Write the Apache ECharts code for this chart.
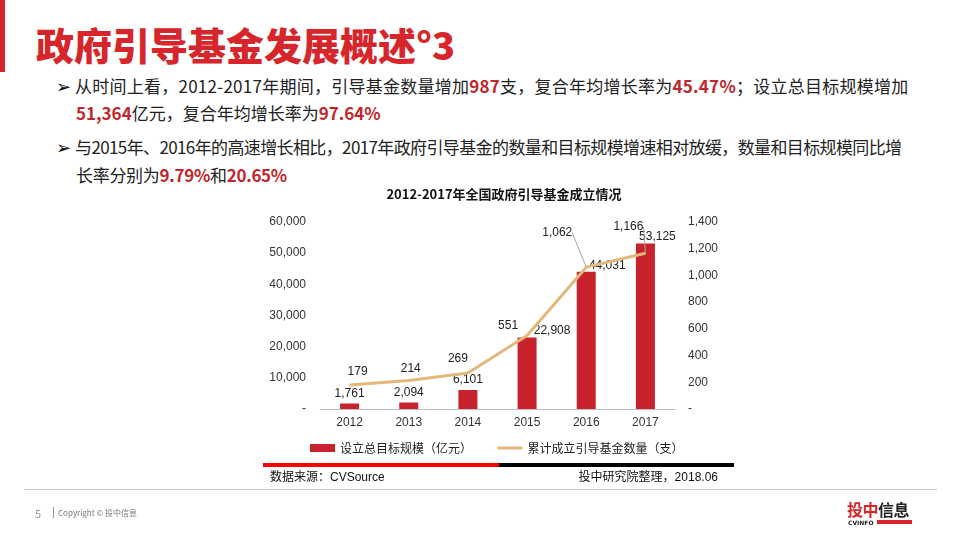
<!DOCTYPE html>
<html>
<head>
<meta charset="utf-8">
<script src="https://cdn.jsdelivr.net/npm/echarts@6/dist/echarts.min.js"></script>
<style>
  html, body { margin: 0; padding: 0; background: #fff; }
  #page { position: relative; width: 960px; height: 540px; overflow: hidden; background: #fff;
          font-family: "Noto Sans CJK SC", "Noto Sans", sans-serif; }
  .abs { position: absolute; white-space: nowrap; }
  .bl { font-size: 17px; line-height: 20px; color: #222; }
  .red { color: #C0272D; font-weight: bold; }
  .arrow { font-family: "DejaVu Sans", sans-serif; font-size: 18px; line-height: 20px; color: #000; }
  #chart { position: absolute; left: 0; top: 0; width: 960px; height: 540px; }
</style>
</head>
<body>
<div id="page">
  <div class="abs" style="left:0;top:0;width:5px;height:72px;background:#D7262B;"></div>
  <div class="abs" style="left:36px;top:25px;font-size:38px;line-height:38px;font-weight:900;color:#D7262B;">政府引导基金发展概述°3</div>

  <div class="abs bl" style="left:56px;top:76px;"><span class="arrow">➢</span></div>
  <div class="abs bl" style="left:75px;top:76px;letter-spacing:0.25px;">从时间上看，2012-2017年期间，引导基金数量增加<span class="red">987</span>支，复合年均增长率为<span class="red">45.47%</span>；设立总目标规模增加</div>
  <div class="abs bl" style="left:76px;top:103px;"><span class="red">51,364</span>亿元，复合年均增长率为<span class="red">97.64%</span></div>
  <div class="abs bl" style="left:56px;top:137px;"><span class="arrow">➢</span></div>
  <div class="abs bl" style="left:75px;top:137px;letter-spacing:-0.62px;">与2015年、2016年的高速增长相比，2017年政府引导基金的数量和目标规模增速相对放缓，数量和目标规模同比增</div>
  <div class="abs bl" style="left:76px;top:165px;letter-spacing:-0.3px;">长率分别为<span class="red">9.79%</span>和<span class="red">20.65%</span></div>

  <div id="chart"></div>

  <div class="abs" style="left:263px;top:463px;width:236px;height:4px;background:#FF0000;"></div>
  <div class="abs" style="left:499px;top:463px;width:235px;height:4px;background:#000;"></div>
  <div class="abs" style="left:270px;top:470px;font-size:12px;line-height:14px;color:#111;font-family:'Liberation Sans','Noto Sans CJK SC',sans-serif;">数据来源：CVSource</div>
  <div class="abs" style="right:242px;top:470px;font-size:12px;line-height:14px;color:#111;font-family:'Liberation Sans','Noto Sans CJK SC',sans-serif;">投中研究院整理，2018.06</div>

  <div class="abs" style="left:24px;top:489px;width:913px;height:1px;background:#C8C8C8;"></div>

  <div class="abs" style="left:35px;top:506px;font-size:11px;line-height:14px;color:#999;">5</div>
  <div class="abs" style="left:53px;top:507px;width:1px;height:11px;background:#999;"></div>
  <div class="abs" style="left:58px;top:507px;font-size:8px;line-height:12px;color:#777;">Copyright © 投中信息</div>

  <div class="abs" style="left:847px;top:500px;font-size:16px;line-height:18px;font-weight:bold;letter-spacing:-0.5px;"><span style="color:#D7262B;">投中</span><span style="color:#222;">信息</span></div>
  <div class="abs" style="left:848px;top:519px;font-size:6px;line-height:7px;color:#222;font-weight:bold;font-family:'DejaVu Sans',sans-serif;">CVINFO</div>
  <div class="abs" style="left:877px;top:520px;width:35px;height:4px;background:#D7262B;"></div>
</div>

<script>
// ---- data ----
const years = ['2012', '2013', '2014', '2015', '2016', '2017'];
const targetScale = [1761, 2094, 6101, 22908, 44031, 53125];   // 设立总目标规模（亿元）
const fundCount = [179, 214, 269, 551, 1062, 1166];             // 累计成立引导基金数量（支）
const leftTicks = { min: 0, max: 60000, interval: 10000 };
const rightTicks = { min: 0, max: 1400, interval: 200 };

// ---- label layout tweaks (styling only) ----
const barLabelShift = [[0, 0], [0, 0], [0, 0], [25, 3], [21, 4], [12, 3]];
const lineLabelShift = [[8, -2], [2, 0], [-10, -3], [-19, 2], [-29, -23], [-17, -15]];
const leaderIdx = [4, 5];

const fmt = v => v === 0 ? '-' : Number(v).toLocaleString('en-US');
const axisFont = { fontFamily: 'Liberation Sans, Arial, sans-serif', fontSize: 12, color: '#333' };
const lineColor = '#E2B97B';

const chart = echarts.init(document.getElementById('chart'), null, { renderer: 'canvas' });
chart.setOption({
  animation: false,
  title: {
    text: '2012-2017年全国政府引导基金成立情况',
    left: 499, textAlign: 'center', top: 183,
    textStyle: { fontSize: 13, fontWeight: 'bold', color: '#111', fontFamily: 'Noto Sans CJK SC, sans-serif' }
  },
  legend: {
    left: 310, top: 442, padding: 0,
    itemWidth: 25, itemHeight: 8, itemGap: 24,
    textStyle: { fontSize: 12, color: '#222', fontFamily: 'Noto Sans CJK SC, sans-serif' },
    data: [
      { name: '设立总目标规模（亿元）', icon: 'rect' },
      { name: '累计成立引导基金数量（支）',
        itemStyle: { color: 'rgba(0,0,0,0)', borderWidth: 0, opacity: 0 },
        lineStyle: { color: lineColor, width: 3 } }
    ]
  },
  grid: { left: 320, right: 285, top: 222, bottom: 131, containLabel: false },
  xAxis: {
    type: 'category', data: years,
    axisLine: { lineStyle: { color: '#BFBFBF' } },
    axisTick: { show: false },
    axisLabel: Object.assign({ margin: 8 }, axisFont)
  },
  yAxis: [
    {
      type: 'value', min: leftTicks.min, max: leftTicks.max, interval: leftTicks.interval,
      splitLine: { show: false }, axisLine: { show: false }, axisTick: { show: false },
      axisLabel: Object.assign({ margin: 14, formatter: fmt }, axisFont)
    },
    {
      type: 'value', min: rightTicks.min, max: rightTicks.max, interval: rightTicks.interval,
      position: 'right',
      splitLine: { show: false }, axisLine: { show: false }, axisTick: { show: false },
      axisLabel: Object.assign({ margin: 13, formatter: fmt }, axisFont)
    }
  ],
  series: [
    {
      name: '设立总目标规模（亿元）', type: 'bar', yAxisIndex: 0,
      data: targetScale, barWidth: 19,
      itemStyle: { color: '#C8232C' },
      label: { show: true, position: 'top', distance: 4, formatter: p => fmt(p.value),
               fontFamily: 'Liberation Sans, Arial, sans-serif', fontSize: 12, color: '#222' },
      labelLayout: p => ({ dx: barLabelShift[p.dataIndex][0], dy: barLabelShift[p.dataIndex][1] }),
      z: 2
    },
    {
      name: '累计成立引导基金数量（支）', type: 'line', yAxisIndex: 1,
      data: fundCount.map((v, i) => leaderIdx.includes(i)
        ? { value: v, labelLine: { show: true, lineStyle: { color: '#A6A6A6', width: 1 } } }
        : v),
      symbol: 'circle', symbolSize: 1, showSymbol: true,
      lineStyle: { color: lineColor, width: 3 },
      itemStyle: { color: lineColor },
      label: { show: true, position: 'top', distance: 5, formatter: p => fmt(p.value),
               fontFamily: 'Liberation Sans, Arial, sans-serif', fontSize: 12, color: '#222' },
      labelLine: { show: false, lineStyle: { color: '#A6A6A6', width: 1 } },
      labelLayout: p => ({ dx: lineLabelShift[p.dataIndex][0], dy: lineLabelShift[p.dataIndex][1], hideOverlap: false }),
      z: 3
    }
  ]
});
</script>
</body>
</html>
